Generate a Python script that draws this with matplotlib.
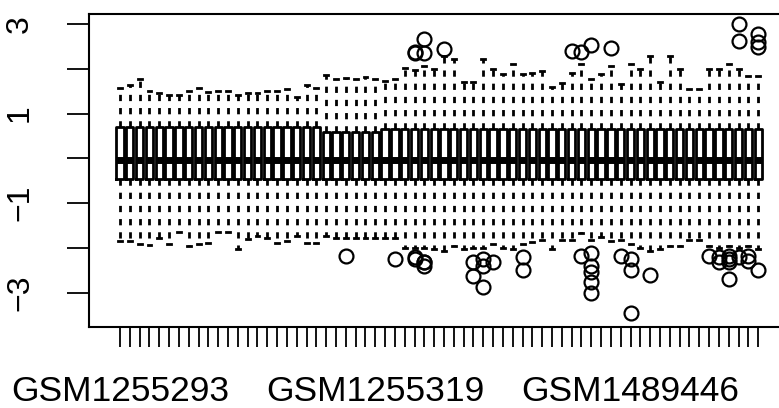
import matplotlib
matplotlib.use("Agg")
import matplotlib.pyplot as plt

plt.rcParams['font.family'] = ['Liberation Sans', 'DejaVu Sans']
plt.rcParams['lines.scale_dashes'] = False

n_samples = 66
label_positions = [1, 27, 53]
label_names = ["GSM1255293", "GSM1255319", "GSM1489446"]

whisker_hi = [1.56, 1.63, 1.78, 1.50, 1.45, 1.41, 1.41, 1.50, 1.56, 1.47, 1.50, 1.50, 1.41, 1.45,
              1.45, 1.50, 1.50, 1.54, 1.38, 1.63, 1.56, 1.85, 1.78,
              1.80, 1.78, 1.82, 1.76, 1.73, 1.76, 2.02, 1.97, 2.06, 2.00, 2.28, 2.21, 1.70, 1.70,
              2.21, 1.99, 1.875, 2.10, 1.875, 1.91, 1.95, 1.60, 1.69, 1.90,
              2.10, 1.78, 1.875, 2.06, 1.65, 2.10, 1.99, 2.28, 1.70, 2.28, 1.99, 1.54, 1.54,
              2.00, 2.00, 2.10, 1.99, 1.84, 1.84]
whisker_lo = [-1.85, -1.85, -1.90, -1.94, -1.77, -1.92, -1.65, -1.96, -1.92, -1.88, -1.65, -1.65,
              -2.03, -1.79, -1.74, -1.77, -1.88, -1.85, -1.74, -1.88, -1.88, -1.74, -1.77,
              -1.77, -1.77, -1.77, -1.77, -1.77, -1.77, -1.99, -1.99, -1.99, -2.03, -2.07, -1.96,
              -2.03, -1.99, -1.99, -1.92, -1.99, -2.02, -1.92, -1.87, -1.81, -2.02, -1.81, -1.81,
              -1.66, -1.81, -1.75, -1.85, -1.81, -1.92, -1.99, -2.07, -2.03, -1.96, -1.96, -1.81,
              -1.81, -1.96, -1.99, -1.96, -1.99, -1.96, -2.02]
q3 = [0.69] * 21 + [0.58] * 6 + [0.65] * 39
q1 = [-0.45] * 47 + [-0.47] * 19
medians = [-0.03] * 66

outliers = {
    23: [-2.18],
    28: [-2.24],
    30: [2.38, 2.36, -2.25, -2.19],
    31: [2.67, 2.36, -2.41, -2.32, -2.30],
    33: [2.43],
    36: [-2.32, -2.63],
    37: [-2.25, -2.86, -2.41],
    38: [-2.32],
    41: [-2.19, -2.48],
    46: [2.40],
    47: [2.38, -2.18],
    48: [2.52, -2.10, -2.41, -2.54, -2.75, -3.00],
    50: [2.47],
    51: [-2.18],
    52: [-2.25, -2.48, -3.44],
    54: [-2.59],
    60: [-2.18],
    61: [-2.21, -2.30],
    62: [-2.18, -2.32, -2.70, -2.25],
    63: [2.99, 2.62, -2.21],
    64: [-2.18, -2.28],
    65: [2.77, 2.59, 2.48, -2.48],
}

stats = []
for i in range(n_samples):
    stats.append(dict(med=medians[i], q1=q1[i], q3=q3[i],
                      whislo=whisker_lo[i], whishi=whisker_hi[i],
                      fliers=outliers.get(i, [])))

fig = plt.figure(figsize=(7.79, 4.08), dpi=100)
W, H = 779, 408
left, right, top, bottom = 89.2, 789.0, 14.0, 327.0
ax = fig.add_axes([left / W, (H - bottom) / H, (right - left) / W, (bottom - top) / H])

positions = list(range(1, n_samples + 1))
ax.bxp(stats, positions=positions, widths=0.74, patch_artist=False,
       boxprops=dict(color='black', linewidth=2.0),
       medianprops=dict(color='black', linewidth=5.0, solid_capstyle='butt'),
       whiskerprops=dict(color='black', linewidth=2.0, linestyle=(0, (4.5, 5.0))),
       capprops=dict(color='black', linewidth=2.0),
       capwidths=0.4,
       flierprops=dict(marker='o', markersize=10, markerfacecolor='none',
                       markeredgecolor='black', markeredgewidth=1.6, linestyle='none'),
       manage_ticks=False)

ax.set_xlim(0.5 - 0.04 * n_samples, n_samples + 0.5 + 0.04 * n_samples)
ax.set_ylim(-3.76, 3.22)

ax.set_xticks(positions)
xlabels = [""] * n_samples
for p, name in zip(label_positions, label_names):
    xlabels[p - 1] = name
ax.set_xticklabels(xlabels, fontsize=25.5)
ax.tick_params(axis='x', direction='out', length=14.5, width=1.3, pad=20)

yticks = [-3, -2, -1, 0, 1, 2, 3]
ax.set_yticks(yticks)
ax.set_yticklabels([str(v).replace('-', '\u2212') if v % 2 else "" for v in yticks],
                   fontsize=23, rotation=90, va='center')
ax.tick_params(axis='y', direction='out', length=16, width=1.3, pad=23)

for s in ax.spines.values():
    s.set_linewidth(1.5)

fig.savefig("out.png", dpi=100)
